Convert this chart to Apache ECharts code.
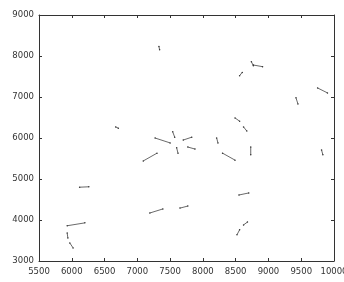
<!DOCTYPE html>
<html>
<head>
<meta charset="utf-8">
<script src="https://cdn.jsdelivr.net/npm/echarts@6/dist/echarts.min.js"></script>
<style>
  html, body { margin: 0; padding: 0; background: #fff; }
  #chart { width: 344px; height: 282px; }
</style>
</head>
<body>
<div id="chart"></div>
<script>
'use strict';

// short segments (start -> end)
var xStart = [7330, 8560, 8740, 8770, 9750, 9420, 8490, 8620, 8730, 8300, 8210, 7540, 7700, 7600, 7770, 9810, 7270, 7090, 6670, 6120, 5930, 5930, 5970, 7190, 7650, 8550, 8620, 8520];
var yStart = [8230, 7520, 7860, 7780, 7220, 6980, 6490, 6270, 5780, 5630, 6000, 6150, 5950, 5760, 5780, 5710, 6000, 5440, 6270, 4800, 3860, 3680, 3440, 4170, 4290, 4610, 3880, 3640];
var xEnd   = [7340, 8600, 8770, 8910, 9900, 9450, 8560, 8670, 8730, 8490, 8230, 7570, 7830, 7620, 7880, 9830, 7500, 7300, 6710, 6260, 6200, 5940, 6020, 7390, 7770, 8700, 8680, 8560];
var yEnd   = [8150, 7600, 7760, 7740, 7100, 6830, 6410, 6170, 5590, 5460, 5880, 6020, 6020, 5630, 5730, 5590, 5880, 5630, 6240, 4810, 3930, 3560, 3320, 4270, 4340, 4660, 3950, 3760];

var xTicks = { min: 5500, max: 10000, step: 500 };
var yTicks = { min: 3000, max: 9000, step: 1000 };

var segData = [];
for (var i = 0; i < xStart.length; i++) {
  segData.push([xStart[i], yStart[i]]);
  segData.push([xEnd[i], yEnd[i]]);
  segData.push('-');
}

var myChart = echarts.init(document.getElementById('chart'));

var plain = function (v) { return String(v); };
var axisText = { color: '#333', fontSize: 8.5, fontFamily: 'DejaVu Sans', formatter: plain };
var axisLine = { show: true, lineStyle: { color: '#333', width: 1 } };
var tickIn = { show: true, inside: true, length: 3, lineStyle: { color: '#333' } };

var option = {
  animation: false,
  backgroundColor: '#fff',
  grid: { left: 39, right: 10, top: 15, bottom: 21, outerBoundsMode: 'none', containLabel: false },
  xAxis: [{
    type: 'value', min: xTicks.min, max: xTicks.max, interval: xTicks.step,
    axisLine: axisLine, axisTick: tickIn, splitLine: { show: false },
    axisLabel: Object.assign({ margin: 6 }, axisText)
  }, {
    type: 'value', position: 'top', min: xTicks.min, max: xTicks.max, interval: xTicks.step,
    axisLine: axisLine, axisTick: tickIn, splitLine: { show: false },
    axisLabel: { show: false }
  }],
  yAxis: [{
    type: 'value', min: yTicks.min, max: yTicks.max, interval: yTicks.step,
    axisLine: axisLine, axisTick: tickIn, splitLine: { show: false },
    axisLabel: Object.assign({ margin: 5 }, axisText)
  }, {
    type: 'value', position: 'right', min: yTicks.min, max: yTicks.max, interval: yTicks.step,
    axisLine: axisLine, axisTick: tickIn, splitLine: { show: false },
    axisLabel: { show: false }
  }],
  series: [{
    type: 'line',
    data: segData,
    connectNulls: false,
    symbol: 'circle',
    symbolSize: 1.5,
    showSymbol: true,
    itemStyle: { color: '#333' },
    lineStyle: { color: '#444', width: 0.8 }
  }]
};
myChart.setOption(option);
</script>
</body>
</html>
